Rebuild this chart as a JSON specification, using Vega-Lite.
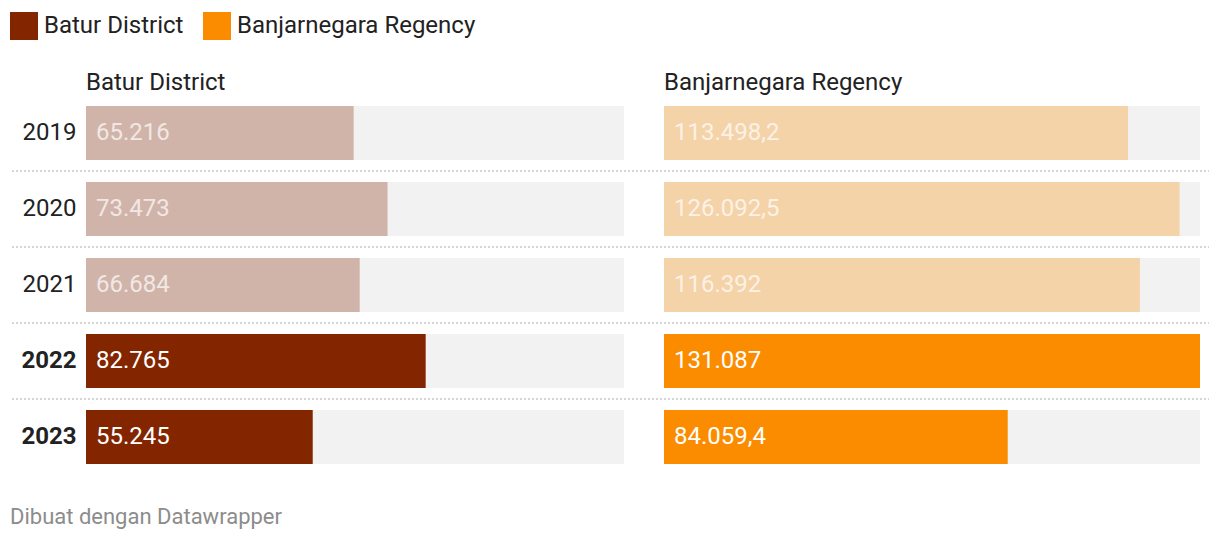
{
  "$schema": "https://vega.github.io/schema/vega-lite/v6.json",
  "padding": {"left": 10, "top": 12, "right": 1, "bottom": 4},
  "bounds": "flush",
  "spacing": 40,
  "background": "white",
  "datasets": {
    "rows": [
      {"year": "2019", "region": "Batur District", "value": 65216},
      {"year": "2020", "region": "Batur District", "value": 73473},
      {"year": "2021", "region": "Batur District", "value": 66684},
      {"year": "2022", "region": "Batur District", "value": 82765},
      {"year": "2023", "region": "Batur District", "value": 55245},
      {"year": "2019", "region": "Banjarnegara Regency", "value": 113498.2},
      {"year": "2020", "region": "Banjarnegara Regency", "value": 126092.5},
      {"year": "2021", "region": "Banjarnegara Regency", "value": 116392},
      {"year": "2022", "region": "Banjarnegara Regency", "value": 131087},
      {"year": "2023", "region": "Banjarnegara Regency", "value": 84059.4}
    ]
  },
  "title": {
    "text": "Dibuat dengan Datawrapper",
    "orient": "bottom",
    "anchor": "start",
    "frame": "bounds",
    "fontSize": 22,
    "fontWeight": "normal",
    "color": "#8c8c8c",
    "offset": 32
  },
  "hconcat": [
    {
      "width": 538,
      "height": 380,
      "title": {"text": "Batur District", "anchor": "start", "frame": "group", "offset": 0},
      "data": {"name": "rows"},
      "transform": [{"filter": "datum.region === 'Batur District'"}],
      "layer": [
        {
          "mark": {"type": "bar", "color": "#f2f2f2"},
          "encoding": {
            "y": {"field": "year", "type": "ordinal", "scale": {"domain": ["2019", "2020", "2021", "2022", "2023"], "paddingInner": 0.2895, "paddingOuter": 0.1447}, "axis": {"title": null, "domain": false, "ticks": false, "labelFontSize": 24, "labelColor": "#222222", "labelPadding": 10, "labelFontWeight": {"condition": {"test": "datum.value >= '2022'", "value": "bold"}, "value": "normal"}}},
            "x": {"datum": 131087, "type": "quantitative", "scale": {"domain": [0, 131087], "nice": false, "zero": true}, "axis": null},
            "x2": {"datum": 0}
          }
        },
        {
          "mark": {"type": "bar"},
          "encoding": {
            "y": {"field": "year", "type": "ordinal"},
            "x": {"field": "value", "type": "quantitative"},
            "color": {"field": "region", "type": "nominal", "scale": {"domain": ["Batur District", "Banjarnegara Regency"], "range": ["#832600", "#fb8c00"]}, "legend": {"title": null, "orient": "none", "direction": "horizontal", "legendX": -76, "legendY": -83, "symbolType": "square", "symbolSize": 784, "symbolStrokeWidth": 0, "symbolOpacity": 1, "labelFontSize": 24, "labelColor": "#222222", "labelOffset": 6, "columnPadding": 19, "labelLimit": 400}},
            "opacity": {"condition": {"test": "datum.year >= '2022'", "value": 1}, "value": 0.3}
          }
        },
        {
          "mark": {"type": "text", "align": "left", "baseline": "middle", "dx": 10, "color": "white", "fontSize": 24},
          "encoding": {
            "y": {"field": "year", "type": "ordinal"},
            "x": {"datum": 0, "type": "quantitative"},
            "text": {"field": "value", "type": "quantitative", "format": ",.1~f"},
            "opacity": {"condition": {"test": "datum.year >= '2022'", "value": 1}, "value": 0.7}
          }
        },
        {
          "transform": [{"filter": "datum.year !== '2023'"}],
          "mark": {"type": "rule", "color": "#d6d6d6", "strokeWidth": 2, "strokeDash": [2, 2]},
          "encoding": {
            "y": {"field": "year", "type": "ordinal", "bandPosition": 1.2037},
            "x": {"datum": -18030, "type": "quantitative"},
            "x2": {"datum": 140834}
          }
        }
      ]
    },
    {
      "width": 536,
      "height": 380,
      "title": {"text": "Banjarnegara Regency", "anchor": "start", "frame": "group", "offset": 0},
      "data": {"name": "rows"},
      "transform": [{"filter": "datum.region === 'Banjarnegara Regency'"}],
      "layer": [
        {
          "mark": {"type": "bar", "color": "#f2f2f2"},
          "encoding": {
            "y": {"field": "year", "type": "ordinal", "scale": {"domain": ["2019", "2020", "2021", "2022", "2023"], "paddingInner": 0.2895, "paddingOuter": 0.1447}, "axis": null},
            "x": {"datum": 131087, "type": "quantitative", "scale": {"domain": [0, 131087], "nice": false, "zero": true}, "axis": null},
            "x2": {"datum": 0}
          }
        },
        {
          "mark": {"type": "bar"},
          "encoding": {
            "y": {"field": "year", "type": "ordinal"},
            "x": {"field": "value", "type": "quantitative"},
            "color": {"field": "region", "type": "nominal", "scale": {"domain": ["Batur District", "Banjarnegara Regency"], "range": ["#832600", "#fb8c00"]}, "legend": {"title": null, "orient": "none", "direction": "horizontal", "legendX": -76, "legendY": -83, "symbolType": "square", "symbolSize": 784, "symbolStrokeWidth": 0, "symbolOpacity": 1, "labelFontSize": 24, "labelColor": "#222222", "labelOffset": 6, "columnPadding": 19, "labelLimit": 400}},
            "opacity": {"condition": {"test": "datum.year >= '2022'", "value": 1}, "value": 0.3}
          }
        },
        {
          "mark": {"type": "text", "align": "left", "baseline": "middle", "dx": 10, "color": "white", "fontSize": 24},
          "encoding": {
            "y": {"field": "year", "type": "ordinal"},
            "x": {"datum": 0, "type": "quantitative"},
            "text": {"field": "value", "type": "quantitative", "format": ",.1~f"},
            "opacity": {"condition": {"test": "datum.year >= '2022'", "value": 1}, "value": 0.7}
          }
        },
        {
          "transform": [{"filter": "datum.year !== '2023'"}],
          "mark": {"type": "rule", "color": "#d6d6d6", "strokeWidth": 2, "strokeDash": [2, 2]},
          "encoding": {
            "y": {"field": "year", "type": "ordinal", "bandPosition": 1.2037},
            "x": {"datum": 0, "type": "quantitative"},
            "x2": {"datum": 133288}
          }
        }
      ]
    }
  ],
  "resolve": {"scale": {"x": "independent", "y": "independent", "color": "shared"}, "legend": {"color": "shared"}},
  "config": {
    "font": "Roboto",
    "view": {"stroke": null},
    "title": {"fontSize": 24, "fontWeight": "normal", "color": "#222222"},
    "locale": {"number": {"decimal": ",", "thousands": ".", "grouping": [3], "currency": ["", ""]}}
  }
}
